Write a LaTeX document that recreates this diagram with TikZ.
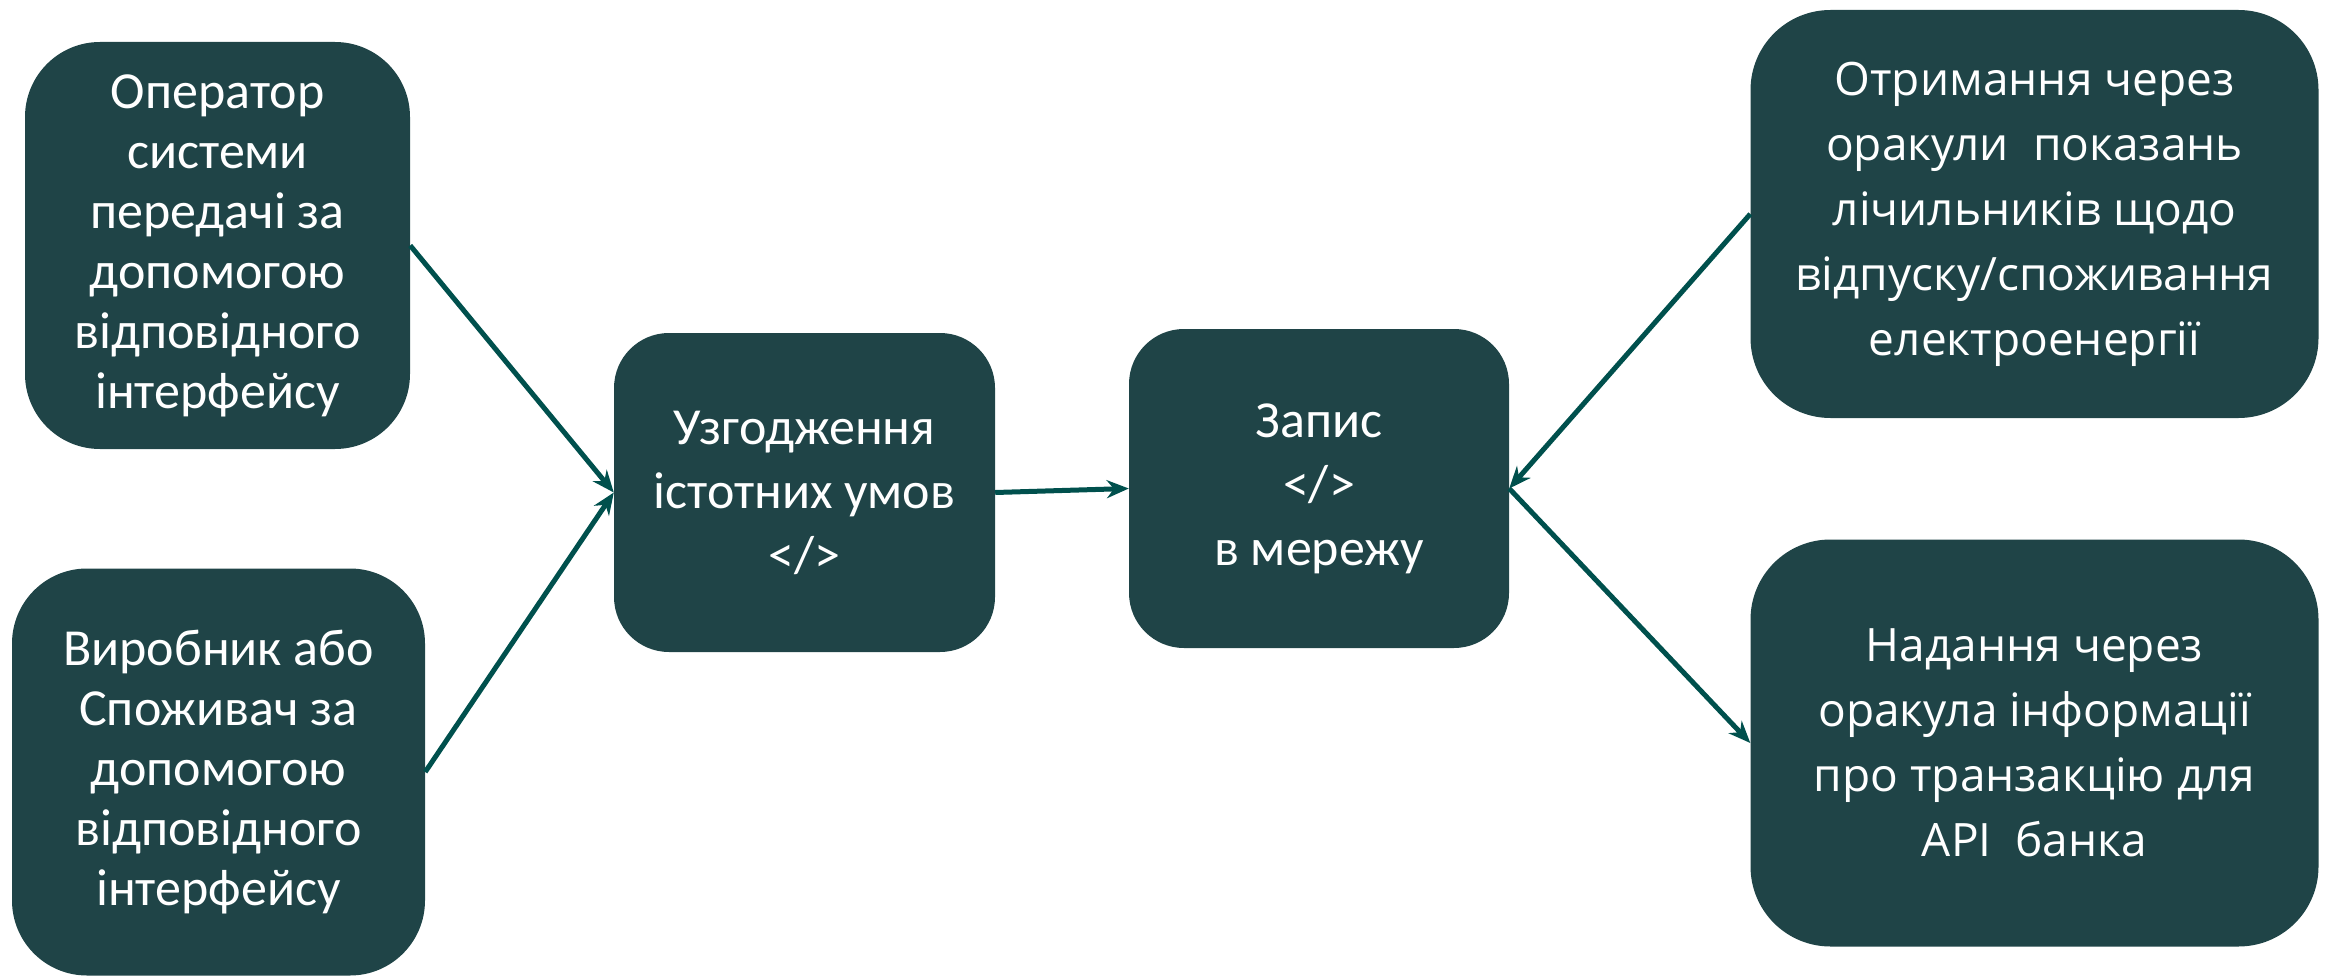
\documentclass[tikz,border=0pt]{standalone}
\usepackage{fontspec}
\setmainfont{Carlito}
\newfontfamily\wideface{Open Sans}
\usetikzlibrary{arrows.meta}
\definecolor{boxgreen}{RGB}{31,68,71}
\definecolor{arrowgreen}{RGB}{0,80,77}
\begin{document}
\begin{tikzpicture}
		[x=1pt,y=-1pt,
		place1/.style={rectangle,rounded corners=75pt,fill=boxgreen,text=white,
inner sep=0pt,align=center,font=\fontsize{52}{60}\selectfont},
		place2/.style={place1,rounded corners=55pt,font=\fontsize{52}{64}\selectfont},
		place3/.style={place1,rounded corners=80pt,font=\wideface\fontsize{46}{65}\selectfont},
		edgestyle/.style={-{Stealth[length=22pt,width=18pt]},line width=5pt,arrowgreen}]
		\useasboundingbox (0,0) rectangle (2331,976);
		\node at (217.5,245.5) (oper) [place1,minimum width=385pt,minimum height=407pt]
			{Оператор\\системи\\передачі за\\допомогою\\відповідного\\інтерфейсу};
		\node at (218.5,772) (vyrob) [place1,minimum width=413pt,minimum height=407pt]
			{Виробник або\\Споживач за\\допомогою\\відповідного\\інтерфейсу};
		\node at (804.5,492.5) (uzgod) [place2,minimum width=381pt,minimum height=319pt]
			{Узгодження\\істотних умов\\</>};
		\node at (1319,488.5) (zapys) [place2,minimum width=380pt,minimum height=319pt]
			{Запис\\</>\\в мережу};
		\node at (2034.5,214) (otrym) [place3,minimum width=568pt,minimum height=408pt]
			{Отримання через\\оракули~~показань\\лічильників щодо\\відпуску/споживання\\електроенергії};
		\node at (2034.5,743) (nadan) [place3,minimum width=568pt,minimum height=407pt]
			{Надання через\\оракула інформації\\про транзакцію для\\API~~банка};
		\draw [edgestyle] (oper.east) -- (uzgod.west);
		\draw [edgestyle] (vyrob.east) -- (uzgod.west);
		\draw [edgestyle] (uzgod.east) -- (zapys.west);
		\draw [edgestyle] (otrym.west) -- (zapys.east);
		\draw [edgestyle] (zapys.east) -- (nadan.west);
	\end{tikzpicture}
\end{document}
